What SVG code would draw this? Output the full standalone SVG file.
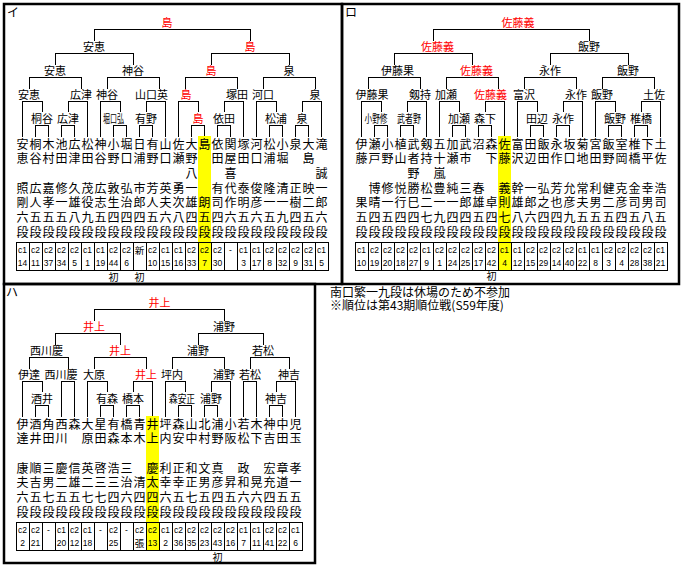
<svg xmlns="http://www.w3.org/2000/svg" width="682" height="565" viewBox="0 0 682 565">
<style>
.n{font-family:"Noto Sans CJK JP","Noto Sans CJK SC",sans-serif;font-size:12px;text-anchor:middle;fill:#000}
.lb{font-family:"Noto Sans CJK JP","Noto Sans CJK SC",sans-serif;font-size:11px;text-anchor:middle;fill:#000}
.sh{font-family:"Noto Sans CJK JP","Noto Sans CJK SC",sans-serif;font-size:10px;text-anchor:middle;fill:#000}
.red{fill:#f00}
.c{font-family:"Liberation Sans",sans-serif;font-size:8.5px;text-anchor:middle;fill:#000}
.k{font-family:"Noto Sans CJK JP",sans-serif;font-size:9.5px;text-anchor:middle;fill:#000}
.cell{fill:none;stroke:#000;stroke-width:1;shape-rendering:crispEdges}
.ln{fill:none;stroke:#000;stroke-width:1;shape-rendering:crispEdges}
.pb{fill:none;stroke:#000;stroke-width:2.5}
.hl{fill:#ff0}
.t{font-family:"Noto Sans CJK JP","Noto Sans CJK SC",sans-serif;font-size:12px;fill:#000}
</style>
<rect width="682" height="565" fill="#fff"/>
<g id="panels">
<rect class="pb" x="4" y="4" width="338" height="280"/>
<rect class="pb" x="342" y="4" width="337" height="280"/>
<rect class="pb" x="4" y="284" width="311" height="279"/>
<text class="t" x="7" y="16.5">イ</text>
<text class="t" x="345" y="16.5">ロ</text>
<text class="t" x="6" y="296.5">ハ</text>
</g>
<g id="highlights">
<rect class="hl" x="198" y="136" width="13" height="134"/>
<rect class="hl" x="498" y="136" width="13" height="134"/>
<rect class="hl" x="146" y="416" width="13" height="134"/>
</g>
<g id="connectors">
<path class="ln" d="M94 41V29H250V41 M55 65V53H133V65 M211 65V53H289V65 M29 89V77H81V89 M107 89V77H159V89 M185 89V77H237V89 M263 89V77H315V89 M22.5 137V101H42V112 M68 112V101H87.5V137 M100.5 137V101H120V112 M146 112V101H165.5V137 M178.5 137V101H198V112 M224 112V101H243.5V137 M256.5 137V101H276V112 M302 112V101H321.5V137 M35.5 137V125H48.5V137 M61.5 137V125H74.5V137 M113.5 137V125H126.5V137 M139.5 137V125H152.5V137 M191.5 137V125H204.5V136 M217.5 137V125H230.5V137 M269.5 137V125H282.5V137 M295.5 137V125H308.5V137"/>
<path class="ln" transform="translate(339 0)" d="M94 41V29H250V41 M55 65V53H133V65 M211 65V53H289V65 M29 89V77H81V89 M107 89V77H159V89 M185 89V77H237V89 M263 89V77H315V89 M22.5 137V101H42V112 M68 112V101H87.5V137 M100.5 137V101H120V112 M146 112V101H165.5V136 M178.5 137V101H198V112 M224 112V101H243.5V137 M256.5 137V101H276V112 M302 112V101H321.5V137 M35.5 137V125H48.5V137 M61.5 137V125H74.5V137 M113.5 137V125H126.5V137 M139.5 137V125H152.5V137 M191.5 137V125H204.5V137 M217.5 137V125H230.5V137 M269.5 137V125H282.5V137 M295.5 137V125H308.5V137"/>
<path class="ln" transform="translate(0 280)" d="M94 41V29H224V41 M55 65V53H120V65 M198 65V53H263V65 M29 89V77H68V89 M94 89V77H146V89 M172 89V77H224V89 M250 89V77H289V89 M22.5 137V101H42V112 M61.5 137V101H74.5V137 M87.5 137V101H107V112 M133 112V101H152.5V136 M165.5 137V101H185V112 M211 112V101H230.5V137 M243.5 137V101H256.5V137 M276 112V101H295.5V137 M35.5 137V125H48.5V137 M100.5 137V125H113.5V137 M126.5 137V125H139.5V137 M178.5 137V125H191.5V137 M204.5 137V125H217.5V137 M269.5 137V125H282.5V137"/>
</g>
<g id="panel-i">
<g id="i-L1"><text class="lb red" x="167" y="27.2">島</text></g>
<g id="i-L2a"><text class="lb" x="94" y="51.2">安恵</text></g>
<g id="i-L2b"><text class="lb red" x="250" y="51.2">島</text></g>
<g id="i-L3a"><text class="lb" x="55" y="75.2">安恵</text></g>
<g id="i-L3b"><text class="lb" x="133" y="75.2">神谷</text></g>
<g id="i-L3c"><text class="lb red" x="211" y="75.2">島</text></g>
<g id="i-L3d"><text class="lb" x="289" y="75.2">泉</text></g>
<g id="i-L4a"><text class="lb" x="29" y="99.2">安恵</text></g>
<g id="i-L4b"><text class="lb" x="81" y="99.2">広津</text></g>
<g id="i-L4c"><text class="lb" x="107" y="99.2">神谷</text></g>
<g id="i-L4d"><text class="lb" x="151.5" y="99.2">山口英</text></g>
<g id="i-L4e"><text class="lb red" x="186" y="99.2">島</text></g>
<g id="i-L4f"><text class="lb" x="237" y="99.2">塚田</text></g>
<g id="i-L4g"><text class="lb" x="263" y="99.2">河口</text></g>
<g id="i-L4h"><text class="lb" x="315" y="99.2">泉</text></g>
<g id="i-S1"><text class="lb" x="42" y="122.7">桐谷</text></g>
<g id="i-S2"><text class="lb" x="68" y="122.7">広津</text></g>
<g id="i-S3"><text class="lb" x="113.5" y="122.7" textLength="21" lengthAdjust="spacingAndGlyphs">堀口弘</text></g>
<g id="i-S4"><text class="lb" x="146" y="122.7">有野</text></g>
<g id="i-S5"><text class="lb red" x="198" y="122.7">島</text></g>
<g id="i-S6"><text class="lb" x="224" y="122.7">依田</text></g>
<g id="i-S7"><text class="lb" x="276" y="122.7">松浦</text></g>
<g id="i-S8"><text class="lb" x="302" y="122.7">泉</text></g>
<g id="i01" transform="translate(22.5 0)"><text class="n" x="0 0 0 0 0 0" y="148.5 163.2 192.5 207.2 221.8 236.5">安恵照剛六段</text><rect class="cell" x="-6.5" y="242" width="13" height="28"/><text class="c" y="253">c1</text><text class="c" y="265.5">14</text></g>
<g id="i02" transform="translate(35.5 0)"><text class="n" x="0 0 0 0 0 0" y="148.5 163.2 192.5 207.2 221.8 236.5">桐谷広人五段</text><rect class="cell" x="-6.5" y="242" width="13" height="28"/><text class="c" y="253">c2</text><text class="c" y="265.5">11</text></g>
<g id="i03" transform="translate(48.5 0)"><text class="n" x="0 0 0 0 0 0" y="148.5 163.2 192.5 207.2 221.8 236.5">木村嘉孝五段</text><rect class="cell" x="-6.5" y="242" width="13" height="28"/><text class="c" y="253">c2</text><text class="c" y="265.5">37</text></g>
<g id="i04" transform="translate(61.5 0)"><text class="n" x="0 0 0 0 0 0" y="148.5 163.2 192.5 207.2 221.8 236.5">池田修一五段</text><rect class="cell" x="-6.5" y="242" width="13" height="28"/><text class="c" y="253">c2</text><text class="c" y="265.5">34</text></g>
<g id="i05" transform="translate(74.5 0)"><text class="n" x="0 0 0 0 0 0" y="148.5 163.2 192.5 207.2 221.8 236.5">広津久雄八段</text><rect class="cell" x="-6.5" y="242" width="13" height="28"/><text class="c" y="253">c2</text><text class="c" y="265.5">5</text></g>
<g id="i06" transform="translate(87.5 0)"><text class="n" x="0 0 0 0 0 0" y="148.5 163.2 192.5 207.2 221.8 236.5">松田茂役九段</text><rect class="cell" x="-6.5" y="242" width="13" height="28"/><text class="c" y="253">c1</text><text class="c" y="265.5">1</text></g>
<g id="i07" transform="translate(100.5 0)"><text class="n" x="0 0 0 0 0 0" y="148.5 163.2 192.5 207.2 221.8 236.5">神谷広志五段</text><rect class="cell" x="-6.5" y="242" width="13" height="28"/><text class="c" y="253">c1</text><text class="c" y="265.5">19</text></g>
<g id="i08" transform="translate(113.5 0)"><text class="n" x="0 0 0 0 0 0" y="148.5 163.2 192.5 207.2 221.8 236.5">小野敦生四段</text><rect class="cell" x="-6.5" y="242" width="13" height="28"/><text class="c" y="253">c2</text><text class="c" y="265.5">44</text><text class="sh" y="280.5">初</text></g>
<g id="i09" transform="translate(126.5 0)"><text class="n" x="0 0 0 0 0 0" y="148.5 163.2 192.5 207.2 221.8 236.5">堀口弘治四段</text><rect class="cell" x="-6.5" y="242" width="13" height="28"/><text class="c" y="253">c2</text><text class="c" y="265.5">6</text></g>
<g id="i10" transform="translate(139.5 0)"><text class="n" x="0 0 0 0 0 0" y="148.5 163.2 192.5 207.2 221.8 236.5">日浦市郎四段</text><rect class="cell" x="-6.5" y="242" width="13" height="28"/><text class="k" y="253.5">新</text><text class="sh" y="280.5">初</text></g>
<g id="i11" transform="translate(152.5 0)"><text class="n" x="0 0 0 0 0 0" y="148.5 163.2 192.5 207.2 221.8 236.5">有野芳人五段</text><rect class="cell" x="-6.5" y="242" width="13" height="28"/><text class="c" y="253">c2</text><text class="c" y="265.5">10</text></g>
<g id="i12" transform="translate(165.5 0)"><text class="n" x="0 0 0 0 0 0" y="148.5 163.2 192.5 207.2 221.8 236.5">山口英夫六段</text><rect class="cell" x="-6.5" y="242" width="13" height="28"/><text class="c" y="253">c1</text><text class="c" y="265.5">15</text></g>
<g id="i13" transform="translate(178.5 0)"><text class="n" x="0 0 0 0 0 0" y="148.5 163.2 192.5 207.2 221.8 236.5">佐瀬勇次八段</text><rect class="cell" x="-6.5" y="242" width="13" height="28"/><text class="c" y="253">c1</text><text class="c" y="265.5">16</text></g>
<g id="i14" transform="translate(191.5 0)"><text class="n" x="0 0 0 0 0 0 0" y="148.5 163.2 177.8 192.5 207.2 221.8 236.5">大野八一雄四段</text><rect class="cell" x="-6.5" y="242" width="13" height="28"/><text class="c" y="253">c2</text><text class="c" y="265.5">33</text></g>
<g id="i15" transform="translate(204.5 0)"><text class="n" x="0 0 0 0" y="148.5 207.2 221.8 236.5">島朗五段</text><rect class="cell" x="-6.5" y="242" width="13" height="28"/><text class="c" y="253">c2</text><text class="c" y="265.5">7</text></g>
<g id="i16" transform="translate(217.5 0)"><text class="n" x="0 0 0 0 0 0" y="148.5 163.2 192.5 207.2 221.8 236.5">依田有司四段</text><rect class="cell" x="-6.5" y="242" width="13" height="28"/><text class="c" y="253">c2</text><text class="c" y="265.5">30</text></g>
<g id="i17" transform="translate(230.5 0)"><text class="n" x="0 0 0 0 0 0 0" y="148.5 163.2 177.8 192.5 207.2 221.8 236.5">関屋喜代作六段</text><rect class="cell" x="-6.5" y="242" width="13" height="28"/><text class="c" y="253">-</text></g>
<g id="i18" transform="translate(243.5 0)"><text class="n" x="0 0 0 0 0 0" y="148.5 163.2 192.5 207.2 221.8 236.5">塚田泰明五段</text><rect class="cell" x="-6.5" y="242" width="13" height="28"/><text class="c" y="253">c1</text><text class="c" y="265.5">3</text></g>
<g id="i19" transform="translate(256.5 0)"><text class="n" x="0 0 0 0 0 0" y="148.5 163.2 192.5 207.2 221.8 236.5">河口俊彦六段</text><rect class="cell" x="-6.5" y="242" width="13" height="28"/><text class="c" y="253">c1</text><text class="c" y="265.5">17</text></g>
<g id="i20" transform="translate(269.5 0)"><text class="n" x="0 0 0 0 0 0" y="148.5 163.2 192.5 207.2 221.8 236.5">松浦隆一五段</text><rect class="cell" x="-6.5" y="242" width="13" height="28"/><text class="c" y="253">c2</text><text class="c" y="265.5">8</text></g>
<g id="i21" transform="translate(282.5 0)"><text class="n" x="0 0 0 0 0 0" y="148.5 163.2 192.5 207.2 221.8 236.5">小堀清一九段</text><rect class="cell" x="-6.5" y="242" width="13" height="28"/><text class="c" y="253">c2</text><text class="c" y="265.5">32</text></g>
<g id="i22" transform="translate(295.5 0)"><text class="n" x="0 0 0 0 0" y="148.5 192.5 207.2 221.8 236.5">泉正樹四段</text><rect class="cell" x="-6.5" y="242" width="13" height="28"/><text class="c" y="253">c2</text><text class="c" y="265.5">9</text></g>
<g id="i23" transform="translate(308.5 0)"><text class="n" x="0 0 0 0 0 0" y="148.5 163.2 192.5 207.2 221.8 236.5">大島映二五段</text><rect class="cell" x="-6.5" y="242" width="13" height="28"/><text class="c" y="253">c2</text><text class="c" y="265.5">31</text></g>
<g id="i24" transform="translate(321.5 0)"><text class="n" x="0 0 0 0 0 0" y="148.5 177.8 192.5 207.2 221.8 236.5">滝誠一郎六段</text><rect class="cell" x="-6.5" y="242" width="13" height="28"/><text class="c" y="253">c1</text><text class="c" y="265.5">5</text></g>
</g>
<g id="panel-ro" transform="translate(339 0)">
<g id="r-L1"><text class="lb red" x="179" y="27.2">佐藤義</text></g>
<g id="r-L2a"><text class="lb red" x="98.5" y="51.2">佐藤義</text></g>
<g id="r-L2b"><text class="lb" x="250" y="51.2">飯野</text></g>
<g id="r-L3a"><text class="lb" x="58.5" y="75.2">伊藤果</text></g>
<g id="r-L3b"><text class="lb red" x="137.5" y="75.2">佐藤義</text></g>
<g id="r-L3c"><text class="lb" x="211" y="75.2">永作</text></g>
<g id="r-L3d"><text class="lb" x="289" y="75.2">飯野</text></g>
<g id="r-L4a"><text class="lb" x="33" y="99.2">伊藤果</text></g>
<g id="r-L4b"><text class="lb" x="81" y="99.2">剱持</text></g>
<g id="r-L4c"><text class="lb" x="107" y="99.2">加瀬</text></g>
<g id="r-L4d"><text class="lb red" x="151.5" y="99.2">佐藤義</text></g>
<g id="r-L4e"><text class="lb" x="185" y="99.2">富沢</text></g>
<g id="r-L4f"><text class="lb" x="237" y="99.2">永作</text></g>
<g id="r-L4g"><text class="lb" x="263" y="99.2">飯野</text></g>
<g id="r-L4h"><text class="lb" x="315" y="99.2">土佐</text></g>
<g id="r-S1"><text class="lb" x="37" y="122.7" textLength="23" lengthAdjust="spacingAndGlyphs">小野修</text></g>
<g id="r-S2"><text class="lb" x="70" y="122.7" textLength="24" lengthAdjust="spacingAndGlyphs">武者野</text></g>
<g id="r-S3"><text class="lb" x="120" y="122.7">加瀬</text></g>
<g id="r-S4"><text class="lb" x="146" y="122.7">森下</text></g>
<g id="r-S5"><text class="lb" x="198" y="122.7">田辺</text></g>
<g id="r-S6"><text class="lb" x="224" y="122.7">永作</text></g>
<g id="r-S7"><text class="lb" x="276" y="122.7">飯野</text></g>
<g id="r-S8"><text class="lb" x="302" y="122.7">椎橋</text></g>
<g id="r01" transform="translate(22.5 0)"><text class="n" x="0 0 0 0 0" y="148.5 163.2 207.2 221.8 236.5">伊藤果五段</text><rect class="cell" x="-6.5" y="242" width="13" height="28"/><text class="c" y="253">c1</text><text class="c" y="265.5">10</text></g>
<g id="r02" transform="translate(35.5 0)"><text class="n" x="0 0 0 0 0 0" y="148.5 163.2 192.5 207.2 221.8 236.5">瀬戸博晴四段</text><rect class="cell" x="-6.5" y="242" width="13" height="28"/><text class="c" y="253">c2</text><text class="c" y="265.5">19</text></g>
<g id="r03" transform="translate(48.5 0)"><text class="n" x="0 0 0 0 0 0" y="148.5 163.2 192.5 207.2 221.8 236.5">小野修一五段</text><rect class="cell" x="-6.5" y="242" width="13" height="28"/><text class="c" y="253">c2</text><text class="c" y="265.5">20</text></g>
<g id="r04" transform="translate(61.5 0)"><text class="n" x="0 0 0 0 0 0" y="148.5 163.2 192.5 207.2 221.8 236.5">植山悦行四段</text><rect class="cell" x="-6.5" y="242" width="13" height="28"/><text class="c" y="253">c2</text><text class="c" y="265.5">18</text></g>
<g id="r05" transform="translate(74.5 0)"><text class="n" x="0 0 0 0 0 0 0" y="148.5 163.2 177.8 192.5 207.2 221.8 236.5">武者野勝巳四段</text><rect class="cell" x="-6.5" y="242" width="13" height="28"/><text class="c" y="253">c2</text><text class="c" y="265.5">27</text></g>
<g id="r06" transform="translate(87.5 0)"><text class="n" x="0 0 0 0 0 0" y="148.5 163.2 192.5 207.2 221.8 236.5">剱持松二七段</text><rect class="cell" x="-6.5" y="242" width="13" height="28"/><text class="c" y="253">c1</text><text class="c" y="265.5">9</text></g>
<g id="r07" transform="translate(100.5 0)"><text class="n" x="0 0 0 0 0 0 0" y="148.5 163.2 177.8 192.5 207.2 221.8 236.5">五十嵐豊一九段</text><rect class="cell" x="-6.5" y="242" width="13" height="28"/><text class="c" y="253">c2</text><text class="c" y="265.5">1</text></g>
<g id="r08" transform="translate(113.5 0)"><text class="n" x="0 0 0 0 0 0" y="148.5 163.2 192.5 207.2 221.8 236.5">加瀬純一四段</text><rect class="cell" x="-6.5" y="242" width="13" height="28"/><text class="c" y="253">c2</text><text class="c" y="265.5">24</text></g>
<g id="r09" transform="translate(126.5 0)"><text class="n" x="0 0 0 0 0 0" y="148.5 163.2 192.5 207.2 221.8 236.5">武市三郎四段</text><rect class="cell" x="-6.5" y="242" width="13" height="28"/><text class="c" y="253">c2</text><text class="c" y="265.5">25</text></g>
<g id="r10" transform="translate(139.5 0)"><text class="n" x="0 0 0 0 0" y="148.5 192.5 207.2 221.8 236.5">沼春雄五段</text><rect class="cell" x="-6.5" y="242" width="13" height="28"/><text class="c" y="253">c2</text><text class="c" y="265.5">17</text></g>
<g id="r11" transform="translate(152.5 0)"><text class="n" x="0 0 0 0 0" y="148.5 163.2 207.2 221.8 236.5">森下卓四段</text><rect class="cell" x="-6.5" y="242" width="13" height="28"/><text class="c" y="253">c2</text><text class="c" y="265.5">42</text><text class="sh" y="280">初</text></g>
<g id="r12" transform="translate(165.5 0)"><text class="n" x="0 0 0 0 0 0" y="148.5 163.2 192.5 207.2 221.8 236.5">佐藤義則七段</text><rect class="cell" x="-6.5" y="242" width="13" height="28"/><text class="c" y="253">c1</text><text class="c" y="265.5">4</text></g>
<g id="r13" transform="translate(178.5 0)"><text class="n" x="0 0 0 0 0 0" y="148.5 163.2 192.5 207.2 221.8 236.5">富沢幹雄八段</text><rect class="cell" x="-6.5" y="242" width="13" height="28"/><text class="c" y="253">c1</text><text class="c" y="265.5">12</text></g>
<g id="r14" transform="translate(191.5 0)"><text class="n" x="0 0 0 0 0 0" y="148.5 163.2 192.5 207.2 221.8 236.5">田辺一郎六段</text><rect class="cell" x="-6.5" y="242" width="13" height="28"/><text class="c" y="253">c2</text><text class="c" y="265.5">15</text></g>
<g id="r15" transform="translate(204.5 0)"><text class="n" x="0 0 0 0 0 0" y="148.5 163.2 192.5 207.2 221.8 236.5">飯田弘之四段</text><rect class="cell" x="-6.5" y="242" width="13" height="28"/><text class="c" y="253">c2</text><text class="c" y="265.5">29</text></g>
<g id="r16" transform="translate(217.5 0)"><text class="n" x="0 0 0 0 0 0" y="148.5 163.2 192.5 207.2 221.8 236.5">永作芳也四段</text><rect class="cell" x="-6.5" y="242" width="13" height="28"/><text class="c" y="253">c2</text><text class="c" y="265.5">14</text></g>
<g id="r17" transform="translate(230.5 0)"><text class="n" x="0 0 0 0 0 0" y="148.5 163.2 192.5 207.2 221.8 236.5">坂口允彦九段</text><rect class="cell" x="-6.5" y="242" width="13" height="28"/><text class="c" y="253">c2</text><text class="c" y="265.5">40</text></g>
<g id="r18" transform="translate(243.5 0)"><text class="n" x="0 0 0 0 0 0" y="148.5 163.2 192.5 207.2 221.8 236.5">菊地常夫五段</text><rect class="cell" x="-6.5" y="242" width="13" height="28"/><text class="c" y="253">c1</text><text class="c" y="265.5">22</text></g>
<g id="r19" transform="translate(256.5 0)"><text class="n" x="0 0 0 0 0 0" y="148.5 163.2 192.5 207.2 221.8 236.5">宮田利男五段</text><rect class="cell" x="-6.5" y="242" width="13" height="28"/><text class="c" y="253">c1</text><text class="c" y="265.5">8</text></g>
<g id="r20" transform="translate(269.5 0)"><text class="n" x="0 0 0 0 0 0" y="148.5 163.2 192.5 207.2 221.8 236.5">飯野健二五段</text><rect class="cell" x="-6.5" y="242" width="13" height="28"/><text class="c" y="253">c2</text><text class="c" y="265.5">3</text></g>
<g id="r21" transform="translate(282.5 0)"><text class="n" x="0 0 0 0 0 0" y="148.5 163.2 192.5 207.2 221.8 236.5">室岡克彦四段</text><rect class="cell" x="-6.5" y="242" width="13" height="28"/><text class="c" y="253">c2</text><text class="c" y="265.5">4</text></g>
<g id="r22" transform="translate(295.5 0)"><text class="n" x="0 0 0 0 0 0" y="148.5 163.2 192.5 207.2 221.8 236.5">椎橋金司五段</text><rect class="cell" x="-6.5" y="242" width="13" height="28"/><text class="c" y="253">c2</text><text class="c" y="265.5">28</text></g>
<g id="r23" transform="translate(308.5 0)"><text class="n" x="0 0 0 0 0 0" y="148.5 163.2 192.5 207.2 221.8 236.5">下平幸男八段</text><rect class="cell" x="-6.5" y="242" width="13" height="28"/><text class="c" y="253">c2</text><text class="c" y="265.5">38</text></g>
<g id="r24" transform="translate(321.5 0)"><text class="n" x="0 0 0 0 0 0" y="148.5 163.2 192.5 207.2 221.8 236.5">土佐浩司五段</text><rect class="cell" x="-6.5" y="242" width="13" height="28"/><text class="c" y="253">c1</text><text class="c" y="265.5">21</text></g>
</g>
<g id="panel-ha" transform="translate(0 280)">
<g id="h-L1"><text class="lb red" x="159.5" y="27.2">井上</text></g>
<g id="h-L2a"><text class="lb red" x="94" y="51.2">井上</text></g>
<g id="h-L2b"><text class="lb" x="224" y="51.2">浦野</text></g>
<g id="h-L3a"><text class="lb" x="46.5" y="75.2">西川慶</text></g>
<g id="h-L3b"><text class="lb red" x="120" y="75.2">井上</text></g>
<g id="h-L3c"><text class="lb" x="198" y="75.2">浦野</text></g>
<g id="h-L3d"><text class="lb" x="263" y="75.2">若松</text></g>
<g id="h-L4a"><text class="lb" x="29" y="99.2">伊達</text></g>
<g id="h-L4b"><text class="lb" x="61" y="99.2">西川慶</text></g>
<g id="h-L4c"><text class="lb" x="94" y="99.2">大原</text></g>
<g id="h-L4d"><text class="lb red" x="146" y="99.2">井上</text></g>
<g id="h-L4e"><text class="lb" x="172" y="99.2">坪内</text></g>
<g id="h-L4f"><text class="lb" x="224" y="99.2">浦野</text></g>
<g id="h-L4g"><text class="lb" x="250" y="99.2">若松</text></g>
<g id="h-L4h"><text class="lb" x="289" y="99.2">神吉</text></g>
<g id="h-S1"><text class="lb" x="42" y="122.7">酒井</text></g>
<g id="h-S2"><text class="lb" x="107" y="122.7">有森</text></g>
<g id="h-S3"><text class="lb" x="133" y="122.7">橋本</text></g>
<g id="h-S4"><text class="lb" x="182" y="122.7" textLength="26" lengthAdjust="spacingAndGlyphs">森安正</text></g>
<g id="h-S5"><text class="lb" x="211" y="122.7">浦野</text></g>
<g id="h-S6"><text class="lb" x="276" y="122.7">神吉</text></g>
<g id="h01" transform="translate(22.5 0)"><text class="n" x="0 0 0 0 0 0" y="148.5 163.2 192.5 207.2 221.8 236.5">伊達康夫六段</text><rect class="cell" x="-6.5" y="242" width="13" height="28"/><text class="c" y="253">c2</text><text class="c" y="265.5">2</text></g>
<g id="h02" transform="translate(35.5 0)"><text class="n" x="0 0 0 0 0 0" y="148.5 163.2 192.5 207.2 221.8 236.5">酒井順吉五段</text><rect class="cell" x="-6.5" y="242" width="13" height="28"/><text class="c" y="253">c2</text><text class="c" y="265.5">21</text></g>
<g id="h03" transform="translate(48.5 0)"><text class="n" x="0 0 0 0 0 0" y="148.5 163.2 192.5 207.2 221.8 236.5">角田三男七段</text><rect class="cell" x="-6.5" y="242" width="13" height="28"/><text class="c" y="253">-</text></g>
<g id="h04" transform="translate(61.5 0)"><text class="n" x="0 0 0 0 0 0" y="148.5 163.2 192.5 207.2 221.8 236.5">西川慶二五段</text><rect class="cell" x="-6.5" y="242" width="13" height="28"/><text class="c" y="253">c1</text><text class="c" y="265.5">20</text></g>
<g id="h05" transform="translate(74.5 0)"><text class="n" x="0 0 0 0 0" y="148.5 192.5 207.2 221.8 236.5">森信雄五段</text><rect class="cell" x="-6.5" y="242" width="13" height="28"/><text class="c" y="253">c2</text><text class="c" y="265.5">12</text></g>
<g id="h06" transform="translate(87.5 0)"><text class="n" x="0 0 0 0 0 0" y="148.5 163.2 192.5 207.2 221.8 236.5">大原英二七段</text><rect class="cell" x="-6.5" y="242" width="13" height="28"/><text class="c" y="253">c1</text><text class="c" y="265.5">18</text></g>
<g id="h07" transform="translate(100.5 0)"><text class="n" x="0 0 0 0 0 0" y="148.5 163.2 192.5 207.2 221.8 236.5">星田啓三七段</text><rect class="cell" x="-6.5" y="242" width="13" height="28"/><text class="c" y="253">-</text></g>
<g id="h08" transform="translate(113.5 0)"><text class="n" x="0 0 0 0 0 0" y="148.5 163.2 192.5 207.2 221.8 236.5">有森浩三四段</text><rect class="cell" x="-6.5" y="242" width="13" height="28"/><text class="c" y="253">c2</text><text class="c" y="265.5">25</text></g>
<g id="h09" transform="translate(126.5 0)"><text class="n" x="0 0 0 0 0 0" y="148.5 163.2 192.5 207.2 221.8 236.5">橋本三治六段</text><rect class="cell" x="-6.5" y="242" width="13" height="28"/><text class="c" y="253">-</text></g>
<g id="h10" transform="translate(139.5 0)"><text class="n" x="0 0 0 0 0" y="148.5 163.2 207.2 221.8 236.5">青木清四段</text><rect class="cell" x="-6.5" y="242" width="13" height="28"/><text class="c" y="253">c2</text><text class="k" y="267">張</text></g>
<g id="h11" transform="translate(152.5 0)"><text class="n" x="0 0 0 0 0 0" y="148.5 163.2 192.5 207.2 221.8 236.5">井上慶太四段</text><rect class="cell" x="-6.5" y="242" width="13" height="28"/><text class="c" y="253">c2</text><text class="c" y="265.5">13</text></g>
<g id="h12" transform="translate(165.5 0)"><text class="n" x="0 0 0 0 0 0" y="148.5 163.2 192.5 207.2 221.8 236.5">坪内利幸六段</text><rect class="cell" x="-6.5" y="242" width="13" height="28"/><text class="c" y="253">c1</text><text class="c" y="265.5">2</text></g>
<g id="h13" transform="translate(178.5 0)"><text class="n" x="0 0 0 0 0 0" y="148.5 163.2 192.5 207.2 221.8 236.5">森安正幸五段</text><rect class="cell" x="-6.5" y="242" width="13" height="28"/><text class="c" y="253">c2</text><text class="c" y="265.5">36</text></g>
<g id="h14" transform="translate(191.5 0)"><text class="n" x="0 0 0 0 0 0" y="148.5 163.2 192.5 207.2 221.8 236.5">山中和正七段</text><rect class="cell" x="-6.5" y="242" width="13" height="28"/><text class="c" y="253">c2</text><text class="c" y="265.5">35</text></g>
<g id="h15" transform="translate(204.5 0)"><text class="n" x="0 0 0 0 0 0" y="148.5 163.2 192.5 207.2 221.8 236.5">北村文男五段</text><rect class="cell" x="-6.5" y="242" width="13" height="28"/><text class="c" y="253">c2</text><text class="c" y="265.5">23</text></g>
<g id="h16" transform="translate(217.5 0)"><text class="n" x="0 0 0 0 0 0" y="148.5 163.2 192.5 207.2 221.8 236.5">浦野真彦四段</text><rect class="cell" x="-6.5" y="242" width="13" height="28"/><text class="c" y="253">c2</text><text class="c" y="265.5">43</text><text class="sh" y="280.5">初</text></g>
<g id="h17" transform="translate(230.5 0)"><text class="n" x="0 0 0 0 0" y="148.5 163.2 207.2 221.8 236.5">小阪昇五段</text><rect class="cell" x="-6.5" y="242" width="13" height="28"/><text class="c" y="253">c2</text><text class="c" y="265.5">16</text></g>
<g id="h18" transform="translate(243.5 0)"><text class="n" x="0 0 0 0 0 0" y="148.5 163.2 192.5 207.2 221.8 236.5">若松政和六段</text><rect class="cell" x="-6.5" y="242" width="13" height="28"/><text class="c" y="253">c1</text><text class="c" y="265.5">7</text></g>
<g id="h19" transform="translate(256.5 0)"><text class="n" x="0 0 0 0 0" y="148.5 163.2 207.2 221.8 236.5">木下晃六段</text><rect class="cell" x="-6.5" y="242" width="13" height="28"/><text class="c" y="253">c1</text><text class="c" y="265.5">11</text></g>
<g id="h20" transform="translate(269.5 0)"><text class="n" x="0 0 0 0 0 0" y="148.5 163.2 192.5 207.2 221.8 236.5">神吉宏充四段</text><rect class="cell" x="-6.5" y="242" width="13" height="28"/><text class="c" y="253">c2</text><text class="c" y="265.5">41</text></g>
<g id="h21" transform="translate(282.5 0)"><text class="n" x="0 0 0 0 0 0" y="148.5 163.2 192.5 207.2 221.8 236.5">中田章道五段</text><rect class="cell" x="-6.5" y="242" width="13" height="28"/><text class="c" y="253">c2</text><text class="c" y="265.5">22</text></g>
<g id="h22" transform="translate(295.5 0)"><text class="n" x="0 0 0 0 0 0" y="148.5 163.2 192.5 207.2 221.8 236.5">児玉孝一五段</text><rect class="cell" x="-6.5" y="242" width="13" height="28"/><text class="c" y="253">c1</text><text class="c" y="265.5">6</text></g>
</g>
<g id="note">
<text class="t"><tspan x="330" y="297">南口繁一九段は休場のため不参加</tspan><tspan x="330" y="310">※順位は第43期順位戦(S59年度)</tspan></text>
</g>
</svg>
